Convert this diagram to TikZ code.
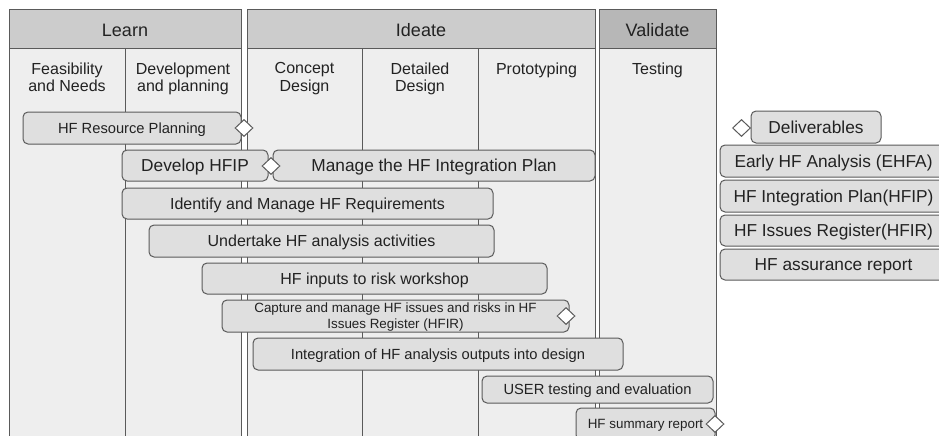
\documentclass[tikz,border=0pt]{standalone}
\usepackage{fontspec}
\setmainfont{Liberation Sans}
\usetikzlibrary{shapes.geometric}

\definecolor{paneback}{HTML}{EEEEEE}
\definecolor{headfill}{HTML}{CCCCCC}
\definecolor{valhead}{HTML}{B7B7B7}
\definecolor{barfill}{HTML}{DFDFDF}
\definecolor{edge}{HTML}{5A5A5A}
\definecolor{ink}{HTML}{222222}

\tikzset{
  panel/.style={draw=edge, line width=1pt, fill=paneback},
  head/.style={draw=edge, line width=1pt, fill=headfill},
  divider/.style={draw=edge, line width=1pt},
  headtext/.style={font=\fontsize{18}{21}\selectfont, text=ink},
  subtext/.style={anchor=north, align=center, inner sep=0pt, text=ink,
                  font=\fontsize{16}{17.5}\selectfont},
  bar/.style={draw=edge, line width=1pt, fill=barfill, rounded corners=5pt,
              inner sep=0pt, align=center, text=ink, text depth=0pt},
  milestone/.style={diamond, draw=edge, line width=1pt, fill=white,
                    inner sep=0pt, minimum width=18pt, minimum height=17pt},
  f13/.style={font=\fontsize{13.4}{16}\selectfont},
  f15/.style={font=\fontsize{14.7}{17}\selectfont},
  f16/.style={font=\fontsize{16}{18}\selectfont},
  f17/.style={font=\fontsize{17.3}{20}\selectfont},
}

% task bar: name, left, top, right, bottom, font style, label
\newcommand\taskbar[7]{%
  \node[bar, #6, minimum width={(#4-#2)*1pt}, minimum height={(#5-#3)*1pt}]
    (#1) at ({(#2+#4)/2},{(#3+#5)/2}) {#7};}

\begin{document}
\begin{tikzpicture}[x=1pt, y=-1pt]
  \clip (0,0) rectangle (939,436);
  \fill[white] (0,0) rectangle (939,436);

  % phase panels
  \draw[panel] (9,10) rectangle (241,470);
  \draw[head] (9,10) rectangle (241,49);
  \draw[divider] (125,49) -- (125,470);

  \draw[panel] (247,10) rectangle (595,470);
  \draw[head] (247,10) rectangle (595,49);
  \draw[divider] (362,49) -- (362,470);
  \draw[divider] (478,49) -- (478,470);

  \draw[panel] (599,10) rectangle (716,470);
  \draw[head, fill=valhead] (599,10) rectangle (716,49);

  % phase titles
  \node[headtext] (learn) at (125,30) {Learn};
  \node[headtext] (ideate) at (421,30) {Ideate};
  \node[headtext] (validate) at (657.5,30) {Validate};

  % stage titles
  \node[subtext] (feas) at (67,62.5) {Feasibility\\and Needs};
  \node[subtext] (devp) at (183,62.5) {Development\\and planning};
  \node[subtext] (conc) at (304.5,62.5) {Concept\\Design};
  \node[subtext] (detl) at (420,62.5) {Detailed\\Design};
  \node[subtext] (prot) at (536.5,62.5) {Prototyping};
  \node[subtext] (test) at (657.5,62.5) {Testing};

  % activities
  \taskbar{resplan}{23}{112}{241}{144}{f15}{HF Resource Planning}
  \taskbar{hfip}{122}{150}{268}{181}{f17}{Develop HFIP}
  \taskbar{manage}{273}{150}{595}{181}{f17}{Manage the HF Integration Plan}
  \taskbar{reqs}{122}{188}{493}{219}{f16}{Identify and Manage HF Requirements}
  \taskbar{analysis}{149}{225}{494}{257}{f16}{Undertake HF analysis activities}
  \taskbar{risk}{202}{263}{547}{294}{f16}{HF inputs to risk workshop}
  \taskbar{issues}{222}{300}{569}{332}{f13}{Capture and manage HF issues and risks in HF\\Issues Register (HFIR)}
  \taskbar{integ}{253}{338}{623}{370}{f15}{Integration of HF analysis outputs into design}
  \taskbar{usertest}{482}{376}{713}{403}{f15}{USER testing and evaluation}
  \taskbar{summary}{576}{408}{715}{440}{f13}{HF summary report}

  % milestones
  \node[milestone] (m1) at (244,128) {};
  \node[milestone] (m2) at (271,166) {};
  \node[milestone] (m3) at (566,316) {};
  \node[milestone] (m4) at (715,424) {};

  % deliverables list
  \node[milestone] (mkey) at (741.5,128) {};
  \taskbar{deliv}{751}{111}{881}{143}{f17}{Deliverables}
  \taskbar{ehfa}{720}{145}{947}{177}{f17}{Early HF Analysis (EHFA)}
  \taskbar{dhfip}{720}{180}{947}{212}{f17}{HF Integration Plan(HFIP)}
  \taskbar{dhfir}{720}{215}{947}{246}{f17}{HF Issues Register(HFIR)}
  \taskbar{assur}{720}{249}{947}{280}{f17}{HF assurance report}
\end{tikzpicture}
\end{document}
